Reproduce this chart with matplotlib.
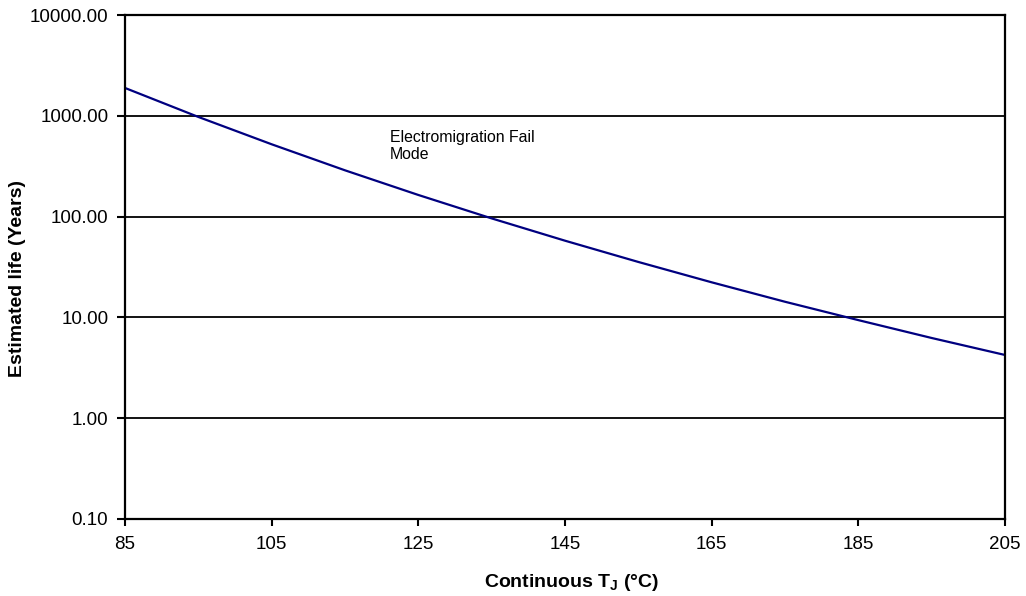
import matplotlib
matplotlib.use('Agg')
import matplotlib.pyplot as plt
from matplotlib.ticker import FixedLocator, NullLocator

plt.rcParams['font.family'] = ['Liberation Sans', 'DejaVu Sans']
plt.rcParams['mathtext.fontset'] = 'custom'
plt.rcParams['mathtext.rm'] = 'Liberation Sans'
plt.rcParams['mathtext.bf'] = 'Liberation Sans:bold'

# junction temperature (C) vs estimated life (years)
temp_c = [85, 95, 105, 115, 125, 135, 145, 155, 165, 175, 185, 195, 205]
life_years = [1890, 975, 522, 288, 164, 96, 57.7, 35.5, 22.3, 14.3, 9.4, 6.25, 4.24]

x_ticks = [85, 105, 125, 145, 165, 185, 205]
y_ticks = [0.1, 1, 10, 100, 1000, 10000]

fig = plt.figure(figsize=(10.26, 5.96), dpi=100)
ax = fig.add_axes([0.1218, 0.1292, 0.8577, 0.8456])

ax.plot(temp_c, life_years, color='#000080', lw=1.6)

ax.set_yscale('log')
ax.set_xlim(85, 205)
ax.set_ylim(0.1, 10000)
ax.xaxis.set_major_locator(FixedLocator(x_ticks))
ax.yaxis.set_major_locator(FixedLocator(y_ticks))
ax.yaxis.set_minor_locator(NullLocator())
ax.set_yticklabels(['%.2f' % v for v in y_ticks])

for y in y_ticks[1:-1]:
    ax.axhline(y, color='black', lw=1.3, zorder=1)

for s in ax.spines.values():
    s.set_linewidth(1.6)
ax.tick_params(axis='both', direction='out', width=1.5, labelsize=13.5, colors='black')
ax.tick_params(axis='x', length=5, pad=7)
ax.tick_params(axis='y', length=6, pad=6)

ax.set_xlabel(r'Continuous T$_{\mathbf{J}}$ (°C)', fontsize=14, fontweight='bold', labelpad=13)
ax.set_ylabel('Estimated life (Years)', fontsize=14, fontweight='bold')
ax.yaxis.set_label_coords(-0.1125, 0.477)
ax.xaxis.set_label_coords(0.508, -0.105)

ax.text(121.1, 730, 'Electromigration Fail\nMode', fontsize=11.4, va='top', ha='left')

fig.savefig('out.png', dpi=100)
